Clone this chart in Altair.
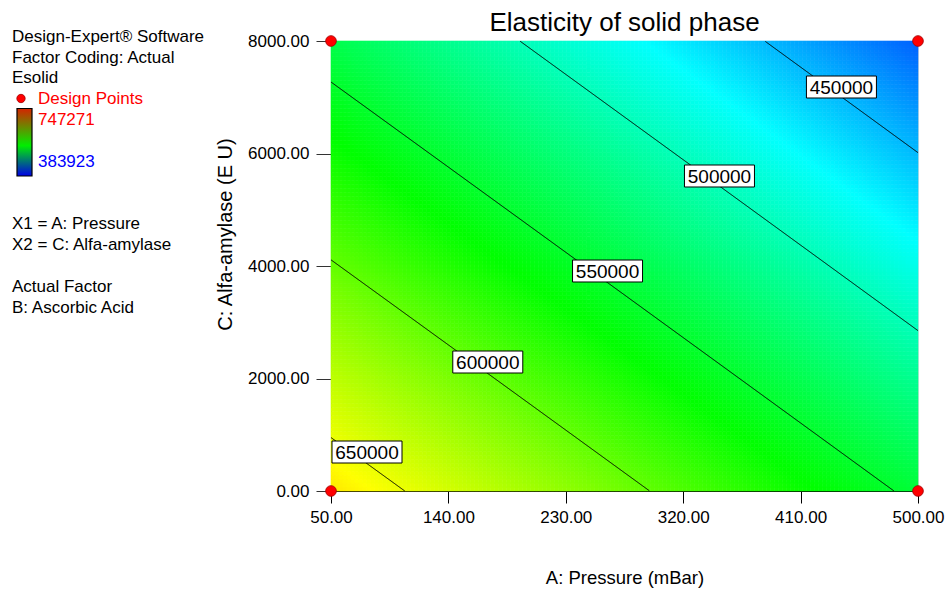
import altair as alt
import numpy as np
import pandas as pd

# ---------------------------------------------------------------------------
# Response surface for Esolid (Pa) over Pressure (mBar) x Alfa-amylase (EU),
# with Ascorbic Acid held at its actual value.
# Points where each contour level meets the edges of the design space.
# ---------------------------------------------------------------------------
edge_pressure = [50.0, 106.9, 50.0, 294.2, 50.0, 481.4, 249.0, 195.0, 500.0, 382.3, 500.0]
edge_amylase = [947.6, 0.0, 4106.7, 0.0, 7271.0, 0.0, 3922.0, 8000.0, 2857.0, 8000.0, 6014.0]
edge_esolid = [650000, 650000, 600000, 600000, 550000, 550000, 550000,
               500000, 500000, 450000, 450000]

contour_levels = [450000, 500000, 550000, 600000, 650000]
label_pressure = [441.3, 347.8, 262.0, 170.2, 77.6]
label_amylase = [7182, 5600, 3911, 2293, 693]

design_pressure = [50, 50, 500, 500]
design_amylase = [0, 8000, 0, 8000]

esolid_low, esolid_high = 383923, 747271
pressure_ticks = [50, 140, 230, 320, 410, 500]
amylase_ticks = [0, 2000, 4000, 6000, 8000]

chart_title = "Elasticity of solid phase"
side_notes = ["Design-Expert® Software", "Factor Coding: Actual", "Esolid"]
factor_notes = ["X1 = A: Pressure", "X2 = C: Alfa-amylase"]
actual_notes = ["Actual Factor", "B: Ascorbic Acid"]

FONT = "Liberation Sans"
PLOT_LEFT, PLOT_TOP = 331, 41
PLOT_W, PLOT_H = 587, 450

# ---------------------------------------------------------------------------
# Quadratic response surface fitted to the contour crossings (coded units)
# ---------------------------------------------------------------------------
def model_terms(a, c):
    u = (np.asarray(a, float) - 275.0) / 225.0
    v = (np.asarray(c, float) - 4000.0) / 4000.0
    return np.column_stack([np.ones_like(u), u, v, u * v, u * u, v * v])


coef, *_ = np.linalg.lstsq(model_terms(edge_pressure, edge_amylase),
                           np.asarray(edge_esolid, float), rcond=None)


def esolid(a, c):
    a = np.ravel(a)
    c = np.ravel(c)
    return model_terms(a, c) @ coef


# Filled surface as a grid of small cells
n_a, n_c = 147, 113
a_edges = np.linspace(50, 500, n_a + 1)
c_edges = np.linspace(0, 8000, n_c + 1)
A0, C0 = np.meshgrid(a_edges[:-1], c_edges[:-1])
A1, C1 = np.meshgrid(a_edges[1:], c_edges[1:])
grid = pd.DataFrame({
    "a0": A0.ravel(), "a1": A1.ravel(),
    "c0": C0.ravel(), "c1": C1.ravel(),
    "esolid": esolid((A0 + A1) / 2, (C0 + C1) / 2),
})

# Contour lines traced from the same surface
c_fine = np.linspace(0, 8000, 1601)
a_fine = np.linspace(50, 500, 901)
rows = []
for level in contour_levels:
    for a in a_fine:
        e = esolid(np.full_like(c_fine, a), c_fine)
        if e.min() <= level <= e.max():
            order = np.argsort(e)
            c = float(np.interp(level, e[order], c_fine[order]))
            rows.append({"level": level, "a": a, "c": c})
contours = pd.DataFrame(rows)

labels = pd.DataFrame({"level": contour_levels, "a": label_pressure, "c": label_amylase})
design = pd.DataFrame({"a": design_pressure, "c": design_amylase})

# ---------------------------------------------------------------------------
# Scales and axes
# ---------------------------------------------------------------------------
x_scale = alt.Scale(domain=[50, 500], nice=False, zero=False)
y_scale = alt.Scale(domain=[0, 8000], nice=False, zero=False)
step = (esolid_high - esolid_low) / 4
color_scale = alt.Scale(
    domain=[esolid_low + i * step for i in range(5)],
    range=["#0000ff", "#00ffff", "#00ff00", "#ffff00", "#ff0000"],
    interpolate="rgb",
)

x_axis = alt.Axis(
    values=pressure_ticks, format=".2f", grid=False, labelFlush=False,
    tickSize=12, labelPadding=6, labelFontSize=17, labelFont=FONT, labelColor="black",
    domainColor="black", tickColor="black",
    title="A: Pressure (mBar)", titleFont=FONT, titleFontSize=18.5, titleFontWeight="normal",
    titleColor="black", titleX=PLOT_W / 2, titleY=92, titleBaseline="alphabetic",
    titleAlign="center",
)
y_axis = alt.Axis(
    values=amylase_ticks, format=".2f", grid=False, labelFlush=False,
    tickSize=15, labelPadding=7, labelFontSize=17, labelFont=FONT, labelColor="black",
    domainColor="#555555", tickColor="#333333",
    title="C: Alfa-amylase (E U)", titleFont=FONT, titleFontSize=20,
    titleFontWeight="normal", titleColor="black", titleAngle=270,
    titleX=225 - PLOT_LEFT, titleY=234 - PLOT_TOP, titleAlign="center",
    titleBaseline="middle",
)

surface = alt.Chart(grid).mark_rect(strokeWidth=0.6).encode(
    x=alt.X("a0:Q", scale=x_scale, axis=x_axis),
    x2="a1:Q",
    y=alt.Y("c0:Q", scale=y_scale, axis=y_axis),
    y2="c1:Q",
    color=alt.Color("esolid:Q", scale=color_scale, legend=None),
    stroke=alt.Stroke("esolid:Q", scale=color_scale, legend=None),
)

lines = alt.Chart(contours).mark_line(color="black", strokeWidth=1).encode(
    x=alt.X("a:Q", scale=x_scale),
    y=alt.Y("c:Q", scale=y_scale),
    detail="level:N",
    order="a:Q",
)

box_path = "M-1,-0.314H1V0.314H-1Z"
label_boxes = alt.Chart(labels).mark_point(
    shape=box_path, size=4900, filled=True, fill="white", stroke="black",
    strokeWidth=1, opacity=1,
).encode(x=alt.X("a:Q", scale=x_scale), y=alt.Y("c:Q", scale=y_scale))

label_text = alt.Chart(labels).mark_text(
    font=FONT, fontSize=19, color="black", align="center", baseline="middle", dy=1,
).encode(
    x=alt.X("a:Q", scale=x_scale), y=alt.Y("c:Q", scale=y_scale),
    text=alt.Text("level:Q", format="d"),
)

points = alt.Chart(design).mark_point(
    filled=True, size=115, color="#ff0000", stroke="#a00000", strokeWidth=0.8, opacity=1,
).encode(x=alt.X("a:Q", scale=x_scale), y=alt.Y("c:Q", scale=y_scale))


# ---------------------------------------------------------------------------
# Title, software notes and colour key
# ---------------------------------------------------------------------------
def note(text, px, py, color="black", size=17, align="left"):
    return alt.Chart(pd.DataFrame({"note": [text]})).mark_text(
        font=FONT, fontSize=size, color=color, align=align, baseline="alphabetic",
    ).encode(text="note:N", x=alt.value(px - PLOT_LEFT), y=alt.value(py - PLOT_TOP))


title = note(chart_title, PLOT_LEFT + PLOT_W / 2, 31, size=26, align="center")

notes = []
for i, line in enumerate(side_notes):
    notes.append(note(line, 12, 42 + i * 20.7))
notes.append(note("Design Points", 38, 103.5, "#ff0000"))
notes.append(note(str(esolid_high), 38, 124.5, "#ff0000"))
notes.append(note(str(esolid_low), 38, 166.5, "#0000ff"))
for i, line in enumerate(factor_notes):
    notes.append(note(line, 12, 229 + i * 21))
for i, line in enumerate(actual_notes):
    notes.append(note(line, 12, 291.5 + i * 21))

key_dot = alt.Chart(pd.DataFrame({"k": [0]})).mark_point(
    filled=True, size=70, color="#ff0000", stroke="#a00000", strokeWidth=0.8, opacity=1,
).encode(x=alt.value(21 - PLOT_LEFT), y=alt.value(98.5 - PLOT_TOP))

key_bar = alt.Chart(pd.DataFrame({"k": [0]})).mark_rect(
    fill=alt.LinearGradient(
        gradient="linear", x1=0, x2=0, y1=0, y2=1,
        stops=[
            alt.GradientStop(color="#d42400", offset=0),
            alt.GradientStop(color="#00ee00", offset=0.55),
            alt.GradientStop(color="#0000e6", offset=1),
        ],
    ),
    stroke="black", strokeWidth=1.2,
).encode(
    x=alt.value(17 - PLOT_LEFT), x2=alt.value(32 - PLOT_LEFT),
    y=alt.value(108.5 - PLOT_TOP), y2=alt.value(176 - PLOT_TOP),
)

chart = alt.layer(
    surface, lines, label_boxes, label_text, points, key_bar, key_dot, title, *notes
).properties(
    width=PLOT_W,
    height=PLOT_H,
    autosize=alt.AutoSizeParams(type="none"),
    padding={"left": PLOT_LEFT, "top": PLOT_TOP,
             "right": 946 - PLOT_LEFT - PLOT_W, "bottom": 590 - PLOT_TOP - PLOT_H},
).configure_view(stroke="#808080", strokeWidth=1).configure(background="white")

chart.save("out.html", embed_options={"renderer": "svg", "actions": False})
